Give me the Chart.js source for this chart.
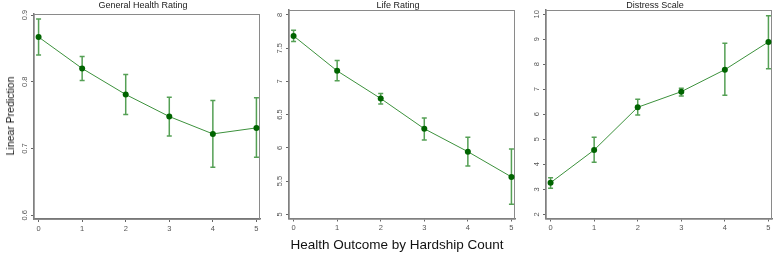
<!DOCTYPE html>
<html>
<head>
<meta charset="utf-8">
<script src="https://cdn.jsdelivr.net/npm/chart.js@4/dist/chart.umd.min.js"></script>
<style>
  body { margin: 0; background: #fff; }
  #wrap { position: relative; width: 775px; height: 257px; font-family: "Liberation Sans", Arial, sans-serif; }
  canvas { position: absolute; left: 0; top: 0; }
  #ytitle { position: absolute; left: 10px; top: 116px; transform: translate(-50%, -50%) rotate(-90deg); font-size: 10.5px; color: #111; white-space: nowrap; }
  #xtitle { position: absolute; left: 397px; top: 244px; transform: translate(-50%, -50%); font-size: 13.5px; color: #111; white-space: nowrap; }
</style>
</head>
<body>
<div id="wrap">
  <canvas id="c1" width="775" height="257"></canvas>
  <canvas id="c2" width="775" height="257"></canvas>
  <canvas id="c3" width="775" height="257"></canvas>
  <div id="ytitle">Linear Prediction</div>
  <div id="xtitle">Health Outcome by Hardship Count</div>
</div>
<script>
const hardship = [0, 1, 2, 3, 4, 5];

const ghrMean = [0.867, 0.820, 0.781, 0.748, 0.722, 0.731];
const ghrLow = [0.840, 0.802, 0.751, 0.719, 0.672, 0.687];
const ghrHigh = [0.894, 0.838, 0.811, 0.777, 0.772, 0.776];
const ghrTicks = [0.6, 0.7, 0.8, 0.9];
const ghrTickLabels = ["0.6", "0.7", "0.8", "0.9"];

const lifeMean = [7.685, 7.159, 6.743, 6.288, 5.943, 5.563];
const lifeLow = [7.600, 7.009, 6.660, 6.119, 5.729, 5.150];
const lifeHigh = [7.770, 7.314, 6.820, 6.449, 6.158, 5.983];
const lifeTicks = [5, 5.5, 6, 6.5, 7, 7.5, 8];
const lifeTickLabels = ["5", "5.5", "6", "6.5", "7", "7.5", "8"];

const distMean = [3.264, 4.572, 6.280, 6.904, 7.784, 8.892];
const distLow = [3.040, 4.080, 5.970, 6.730, 6.760, 7.824];
const distHigh = [3.460, 5.080, 6.600, 7.040, 8.840, 9.944];
const distTicks = [2, 3, 4, 5, 6, 7, 8, 9, 10];
const distTickLabels = ["2", "3", "4", "5", "6", "7", "8", "9", "10"];

const panels = [
  { id: "c1", title: "General Health Rating", mean: ghrMean, low: ghrLow, high: ghrHigh,
    ticks: ghrTicks, labels: ghrTickLabels, ymin: 0.5946, ymax: 0.9015,
    box: { left: 34, right: 260, top: 14, bottom: 219 } },
  { id: "c2", title: "Life Rating", mean: lifeMean, low: lifeLow, high: lifeHigh,
    ticks: lifeTicks, labels: lifeTickLabels, ymin: 4.937, ymax: 8.075,
    box: { left: 289, right: 515, top: 10, bottom: 218.5 } },
  { id: "c3", title: "Distress Scale", mean: distMean, low: distLow, high: distHigh,
    ticks: distTicks, labels: distTickLabels, ymin: 1.832, ymax: 10.17,
    box: { left: 546, right: 772, top: 10, bottom: 218.5 } },
];

const Y_AXIS_W = 8;
const X_AXIS_H = 20;

// draws frame, error bars, rotated y labels and panel title
const stataPlugin = {
  id: "stata",
  beforeDatasetsDraw(chart, args, opts) {
    const { ctx, chartArea: a, scales: { x, y } } = chart;
    ctx.save();
    ctx.strokeStyle = "#8a8a8a";
    ctx.lineWidth = 1;
    ctx.strokeRect(a.left, a.top + 0.5, a.right - a.left - 0.5, a.bottom - a.top);
    // error bars
    ctx.strokeStyle = "rgb(85,160,85)";
    ctx.lineWidth = 1.5;
    hardship.forEach((h, i) => {
      const px = x.getPixelForValue(h);
      const y1 = y.getPixelForValue(opts.low[i]);
      const y2 = y.getPixelForValue(opts.high[i]);
      ctx.beginPath();
      ctx.moveTo(px, y1); ctx.lineTo(px, y2);
      ctx.moveTo(px - 2.5, y1); ctx.lineTo(px + 2.5, y1);
      ctx.moveTo(px - 2.5, y2); ctx.lineTo(px + 2.5, y2);
      ctx.stroke();
    });
    ctx.restore();
  },
  afterDraw(chart, args, opts) {
    const { ctx, chartArea: a, scales: { y } } = chart;
    ctx.save();
    ctx.fillStyle = "#555";
    ctx.font = '7.5px "Liberation Sans", Arial, sans-serif';
    ctx.textAlign = "center";
    ctx.textBaseline = "middle";
    opts.ticks.forEach((v, i) => {
      ctx.save();
      ctx.translate(a.left - 9, y.getPixelForValue(v));
      ctx.rotate(-Math.PI / 2);
      ctx.fillText(opts.labels[i], 0, 0);
      ctx.restore();
    });
    ctx.fillStyle = "#222";
    ctx.font = '9px "Liberation Sans", Arial, sans-serif';
    ctx.textBaseline = "alphabetic";
    ctx.fillText(opts.title, (a.left + a.right) / 2 - 4, 8);
    ctx.restore();
  },
};

panels.forEach((p) => {
  const ctx = document.getElementById(p.id).getContext("2d");
  new Chart(ctx, {
    type: "line",
    data: {
      datasets: [{
        data: hardship.map((h, i) => ({ x: h, y: p.mean[i] })),
        borderColor: "rgb(60,145,60)",
        borderWidth: 1,
        pointBackgroundColor: "rgb(0,100,0)",
        pointBorderColor: "rgb(0,100,0)",
        pointBorderWidth: 0,
        pointRadius: 3,
        pointStyle: "circle",
        clip: false,
        tension: 0,
      }],
    },
    options: {
      responsive: false,
      animation: false,
      devicePixelRatio: 1,
      layout: {
        autoPadding: false,
        padding: {
          left: p.box.left - Y_AXIS_W,
          right: 775 - p.box.right,
          top: p.box.top,
          bottom: 257 - p.box.bottom - X_AXIS_H,
        },
      },
      plugins: {
        legend: { display: false },
        tooltip: { enabled: false },
        stata: { title: p.title, low: p.low, high: p.high, ticks: p.ticks, labels: p.labels },
      },
      scales: {
        x: {
          type: "linear",
          min: -0.105,
          max: 5.082,
          afterBuildTicks: (s) => { s.ticks = hardship.map((v) => ({ value: v })); },
          afterFit: (s) => { s.height = X_AXIS_H; },
          grid: { drawOnChartArea: false, tickLength: 3, color: "#666", tickWidth: 1 },
          border: { color: "#777", width: 1.5 },
          ticks: { color: "#555", font: { size: 7.5, family: '"Liberation Sans", Arial, sans-serif' }, padding: 2, maxRotation: 0 },
        },
        y: {
          min: p.ymin,
          max: p.ymax,
          afterBuildTicks: (s) => { s.ticks = p.ticks.map((v) => ({ value: v })); },
          afterFit: (s) => { s.width = Y_AXIS_W; },
          grid: { drawOnChartArea: false, tickLength: 3, color: "#666", tickWidth: 1 },
          border: { color: "#777", width: 1.5 },
          ticks: { display: false },
        },
      },
    },
    plugins: [stataPlugin],
  });
});
</script>
</body>
</html>
